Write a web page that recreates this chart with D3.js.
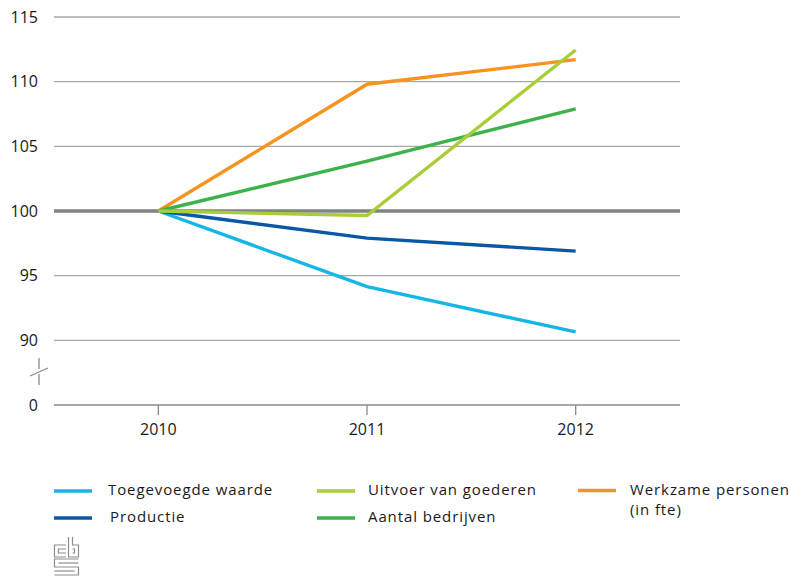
<!DOCTYPE html>
<html>
<head>
<meta charset="utf-8">
<script src="https://cdn.jsdelivr.net/npm/d3@7"></script>
<style>
  html, body { margin: 0; padding: 0; background: #fff; }
  svg { display: block; }
  text { font-family: "Open Sans", "DejaVu Sans", sans-serif; fill: #1a1a1a; }
</style>
</head>
<body>
<svg id="chart" width="796" height="576"></svg>
<script>
// Index figures, 2010 = 100
const years = ["2010", "2011", "2012"];
const toegevoegdeWaarde = [100, 94.15, 90.65];
const productie = [100, 97.9, 96.9];
const uitvoerGoederen = [100, 99.65, 112.45];
const aantalBedrijven = [100, 103.85, 107.9];
const werkzamePersonen = [100, 109.8, 111.7];

// The axis is broken below 90: the lowest tick position carries the label "0"
const yTickValues = [85, 90, 95, 100, 105, 110, 115];
const yTickLabels = ["0", "90", "95", "100", "105", "110", "115"];

const seriesNames = ["Toegevoegde waarde", "Productie", "Uitvoer van goederen", "Aantal bedrijven", "Werkzame personen (in fte)"];
const seriesColors = ["#14b6e6", "#0a57a5", "#a9cd38", "#3bb34a", "#f7931e"];
const seriesValues = [toegevoegdeWaarde, productie, uitvoerGoederen, aantalBedrijven, werkzamePersonen];

const svg = d3.select("#chart");

const plotLeft = 54, plotRight = 680, plotTop = 17, plotBottom = 405;

const x = d3.scaleBand().domain(years).range([plotLeft, plotRight]);
const y = d3.scaleLinear().domain([85, 115]).range([plotBottom, plotTop]);
const xc = d => x(d) + x.bandwidth() / 2;

// Horizontal grid
svg.append("g")
  .selectAll("line")
  .data(yTickValues.filter(v => v !== 85 && v !== 100))
  .join("line")
  .attr("x1", plotLeft).attr("x2", plotRight)
  .attr("y1", d => y(d)).attr("y2", d => y(d))
  .attr("stroke", "#a8a8a8")
  .attr("stroke-width", 1.3);

// Baseline
svg.append("line")
  .attr("x1", plotLeft).attr("x2", plotRight)
  .attr("y1", y(85)).attr("y2", y(85))
  .attr("stroke", "#8a8a8a").attr("stroke-width", 1.4);

// Reference line at 100
svg.append("line")
  .attr("x1", plotLeft).attr("x2", plotRight)
  .attr("y1", y(100)).attr("y2", y(100))
  .attr("stroke", "#808285").attr("stroke-width", 3.5);

// Y axis labels
const yAxis = d3.axisLeft(y)
  .tickValues(yTickValues)
  .tickFormat((d, i) => yTickLabels[i])
  .tickSize(0)
  .tickPadding(0);
const gy = svg.append("g").attr("transform", "translate(38,0)").call(yAxis);
gy.select(".domain").remove();
gy.selectAll("text")
  .attr("font-size", 16)
  .attr("font-family", "\"Open Sans\", sans-serif")
  .attr("fill", "#1a1a1a");

// Axis break mark between 0 and 90
const brk = svg.append("g").attr("stroke", "#8a8a8a").attr("stroke-width", 1.3).attr("fill", "none");
brk.append("path").attr("d", "M39,358 L39,369");
brk.append("path").attr("d", "M30,376 L48,368");
brk.append("path").attr("d", "M39,374 L39,385");

// X axis
const xAxis = d3.axisBottom(x).tickSize(10).tickPadding(9);
const gx = svg.append("g").attr("transform", `translate(0,${plotBottom})`).call(xAxis);
gx.select(".domain").remove();
gx.selectAll("line").attr("stroke", "#8a8a8a").attr("stroke-width", 1.3);
gx.selectAll("text")
  .attr("font-size", 16)
  .attr("font-family", "\"Open Sans\", sans-serif")
  .attr("fill", "#1a1a1a");

// Series lines
const line = d3.line()
  .x((d, i) => xc(years[i]))
  .y(d => y(d));

const drawOrder = [0, 1, 4, 3, 2];
svg.append("g")
  .selectAll("path")
  .data(drawOrder)
  .join("path")
  .attr("d", i => line(seriesValues[i]))
  .attr("fill", "none")
  .attr("stroke", i => seriesColors[i])
  .attr("stroke-width", 3.4)
  .attr("stroke-linejoin", "miter");

// Legend
const legendItems = [
  { idx: 0, sx: 54, ty: 495, tx: 108, lines: ["Toegevoegde waarde"] },
  { idx: 1, sx: 54, ty: 522, tx: 110, lines: ["Productie"] },
  { idx: 2, sx: 317, ty: 495, tx: 368, lines: ["Uitvoer van goederen"] },
  { idx: 3, sx: 317, ty: 522, tx: 368, lines: ["Aantal bedrijven"] },
  { idx: 4, sx: 578, ty: 494.5, tx: 630, lines: ["Werkzame personen", "(in fte)"] }
];
const lg = svg.append("g");
legendItems.forEach(it => {
  lg.append("line")
    .attr("x1", it.sx).attr("x2", it.sx + 38)
    .attr("y1", it.ty - 4).attr("y2", it.ty - 4)
    .attr("stroke", seriesColors[it.idx])
    .attr("stroke-width", 3.6);
  it.lines.forEach((s, k) => {
    lg.append("text")
      .attr("x", it.tx).attr("y", it.ty + k * 20.5)
      .attr("font-size", 15)
      .attr("letter-spacing", 0.9)
      .text(s);
  });
});

// Logo mark
const logo = svg.append("g")
  .attr("fill", "none")
  .attr("stroke", "#8c8c8c")
  .attr("stroke-width", 1.2);
[
  "M66,545 L54.5,545 L54.5,557 L66,557",
  "M66,549 L58.5,549 L58.5,553 L66,553",
  "M68.5,537 L68.5,557 L78.5,557 L78.5,545 L72.5,545 L72.5,537",
  "M72.5,549 L74.5,549 L74.5,553 L72.5,553",
  "M78.5,559 L54.5,559 L54.5,567 L78.5,567 L78.5,575 L54.5,575",
  "M78.5,563 L58.5,563",
  "M54.5,571 L74.5,571"
].forEach(d => logo.append("path").attr("d", d));
</script>
</body>
</html>
